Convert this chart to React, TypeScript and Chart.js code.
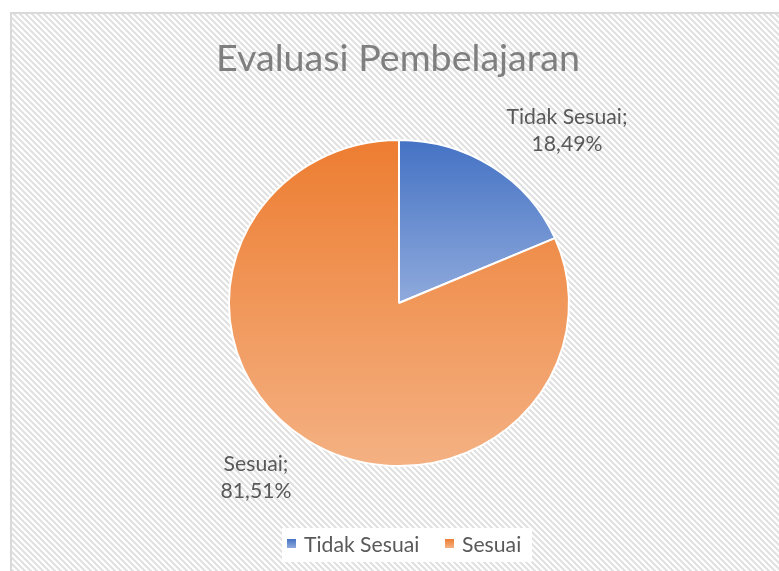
import React, { useEffect, useRef } from "react";
import { Chart, registerables } from "chart.js";

Chart.register(...registerables);

const categories = ["Tidak Sesuai", "Sesuai"];
const values = [18.49, 81.51];
const valueLabels = ["18,49%", "81,51%"];
const chartTitle = "Evaluasi Pembelajaran";

const topColors = ["#4472C4", "#ED7D31"];
const bottomColors = ["#8FAADC", "#F4B183"];
// label centre offsets from the pie centre (layout only)
const labelOffsets = [
  { dx: 168, dy: -172 },
  { dx: -143, dy: 175 },
];
const Y_SQUASH = 163 / 170;

const FONT = "Lato, 'Noto Sans', sans-serif";

function fitFont(ctx: CanvasRenderingContext2D, text: string, width: number) {
  ctx.font = `40px ${FONT}`;
  const w = ctx.measureText(text).width;
  return (40 * width) / w;
}

const decorPlugin = {
  id: "decor",
  beforeDraw(chart: any) {
    const ctx: CanvasRenderingContext2D = chart.ctx;
    const W = chart.width;
    const H = chart.height;
    ctx.save();
    ctx.fillStyle = "#ffffff";
    ctx.fillRect(0, 0, W, H);
    const tile = document.createElement("canvas");
    tile.width = 6;
    tile.height = 6;
    const t = tile.getContext("2d")!;
    t.fillStyle = "#ffffff";
    t.fillRect(0, 0, 6, 6);
    t.strokeStyle = "#e0e0e0";
    t.lineWidth = 2;
    for (const o of [-6, 0, 6]) {
      t.beginPath();
      t.moveTo(o - 1, -1);
      t.lineTo(o + 7, 7);
      t.stroke();
    }
    const pat = ctx.createPattern(tile, "repeat")!;
    ctx.fillStyle = pat;
    ctx.fillRect(11, 13, W, H);
    ctx.strokeStyle = "#d9d9d9";
    ctx.lineWidth = 2;
    ctx.strokeRect(11, 13, W + 10, H + 10);
    ctx.restore();
  },
  beforeDatasetsDraw(chart: any) {
    const ctx: CanvasRenderingContext2D = chart.ctx;
    const a = chart.chartArea;
    const cx = (a.left + a.right) / 2;
    const cy = (a.top + a.bottom) / 2;
    ctx.save();
    ctx.translate(cx, cy);
    ctx.scale(1, Y_SQUASH);
    ctx.translate(-cx, -cy);
  },
  afterDatasetsDraw(chart: any) {
    chart.ctx.restore();
  },
  afterDraw(chart: any) {
    const ctx: CanvasRenderingContext2D = chart.ctx;
    ctx.save();
    // title
    const ts = fitFont(ctx, chartTitle, 364);
    ctx.font = `${ts}px ${FONT}`;
    ctx.fillStyle = "#7f7f7f";
    ctx.textAlign = "center";
    ctx.textBaseline = "middle";
    ctx.fillText(chartTitle, 398, 59);

    // data labels
    const meta = chart.getDatasetMeta(0);
    const arcs = meta.data;
    ctx.fillStyle = "#595959";
    const ls = fitFont(ctx, categories[0] + ";", 121);
    ctx.font = `${ls}px ${FONT}`;
    arcs.forEach((arc: any, i: number) => {
      const cx = arc.x + labelOffsets[i].dx;
      const cy = arc.y + labelOffsets[i].dy;
      ctx.fillText(categories[i] + ";", cx, cy - 14);
      ctx.fillText(valueLabels[i], cx, cy + 13);
    });

    // legend
    ctx.fillStyle = "#ffffff";
    ctx.fillRect(282, 528, 250, 34);
    ctx.font = `${ls}px ${FONT}`;
    ctx.textAlign = "left";
    const items = [
      { sx: 287, tx: 304 },
      { sx: 445, tx: 462 },
    ];
    categories.forEach((c, i) => {
      const g = ctx.createLinearGradient(0, 539, 0, 548);
      g.addColorStop(0, topColors[i]);
      g.addColorStop(1, bottomColors[i]);
      ctx.fillStyle = g;
      ctx.fillRect(items[i].sx, 539, 9, 9);
      ctx.fillStyle = "#595959";
      ctx.fillText(c, items[i].tx, 545);
    });
    ctx.restore();
  },
};

export default function App() {
  const ref = useRef<HTMLCanvasElement>(null);
  useEffect(() => {
    const canvas = ref.current!;
    const chart = new Chart(canvas, {
      type: "pie",
      data: {
        labels: categories,
        datasets: [
          {
            data: values,
            borderColor: "#ffffff",
            borderWidth: 2,
            backgroundColor: (context: any) => {
              const c = context.chart;
              const area = c.chartArea;
              const i = context.dataIndex;
              if (!area) return topColors[i];
              const cy = (area.top + area.bottom) / 2;
              const r = (area.bottom - area.top) / 2;
              const y1 = i === 0 ? cy : cy + r;
              const g = c.ctx.createLinearGradient(0, cy - r, 0, y1);
              g.addColorStop(0, topColors[i]);
              g.addColorStop(1, bottomColors[i]);
              return g;
            },
          },
        ],
      },
      options: {
        responsive: false,
        animation: false,
        layout: { padding: { left: 228, right: 209, top: 132, bottom: 97 } },
        plugins: {
          legend: { display: false },
          title: { display: false },
          tooltip: { enabled: false },
        },
      },
      plugins: [decorPlugin],
    });
    return () => chart.destroy();
  }, []);
  return (
    <div style={{ position: "absolute", left: 0, top: 0, width: 779, height: 571 }}>
      <canvas ref={ref} width={779} height={571} style={{ display: "block" }} />
    </div>
  );
}
